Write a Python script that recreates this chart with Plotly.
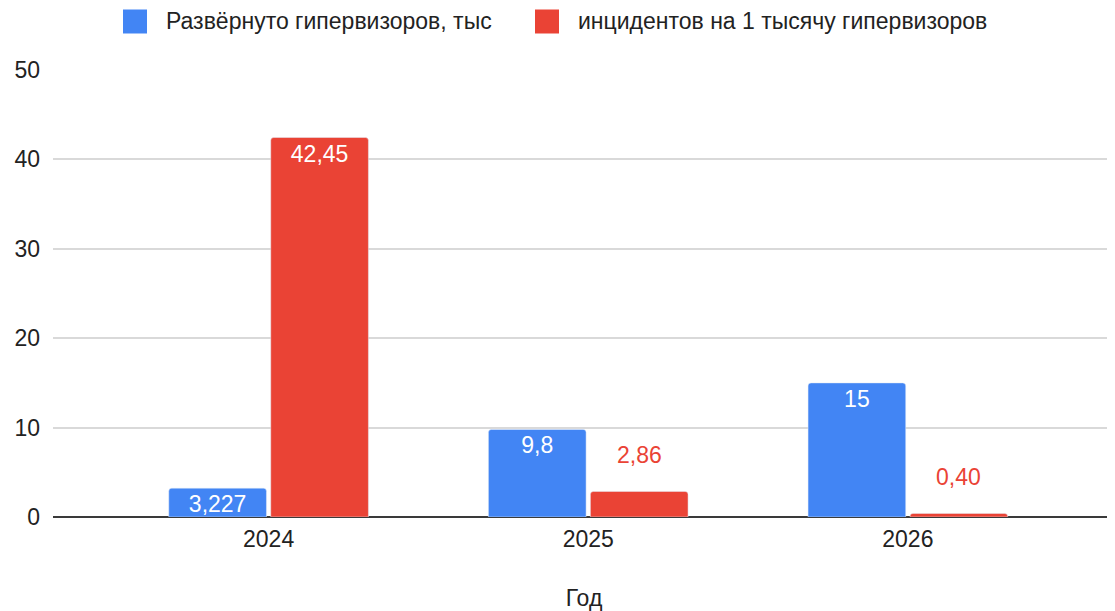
import plotly.graph_objects as go

years = ["2024", "2025", "2026"]
deployed = [3.227, 9.8, 15]
deployed_labels = ["3,227", "9,8", "15"]
incidents = [42.45, 2.86, 0.40]
incidents_labels = ["42,45", "2,86", "0,40"]
name_deployed = "Развёрнуто гипервизоров, тыс"
name_incidents = "инцидентов на 1 тысячу гипервизоров"
axis_title = "Год"
y_ticks = [0, 10, 20, 30, 40, 50]

BLUE = "#4285F4"
RED = "#EA4335"
TXT = "#222222"
FONT = "Liberation Sans, Arial, sans-serif"
FS = 23

# the page body has an 8px margin; size the figure so it ends at the window edge
OFF = 8
W, H = 1115 - OFF, 611 - OFF
ML, MR, MT, MB = 53 - OFF, 0, 70 - OFF, 94
PW, PH = W - ML - MR, H - MT - MB


def px_x(p):
    return (p - OFF - ML) / PW


def px_y(p):
    return (H - MB - (p - OFF)) / PH


fig = go.Figure()
fig.add_trace(go.Bar(
    x=years, y=deployed, name=name_deployed, marker=dict(color=BLUE, cornerradius=3),
    text=deployed_labels, textposition="inside", insidetextanchor="end",
    textfont=dict(color="white", size=FS, family=FONT), textangle=0,
    constraintext="none", showlegend=False,
))
red_text = [incidents_labels[i] if incidents[i] > 10 else "" for i in range(len(years))]
fig.add_trace(go.Bar(
    x=years, y=incidents, name=name_incidents, marker=dict(color=RED, cornerradius=3),
    text=red_text, textposition="inside", insidetextanchor="end",
    textfont=dict(color="white", size=FS, family=FONT), textangle=0,
    constraintext="none", showlegend=False,
))
# small red values: label floats above the bar
for i in range(len(years)):
    if incidents[i] <= 10:
        fig.add_annotation(
            x=i, y=incidents[i], xref="x", yref="y", text=incidents_labels[i],
            showarrow=False, xshift=51, yshift=21, yanchor="bottom",
            font=dict(color=RED, size=FS, family=FONT),
        )

# custom legend (large square swatches)
legend_items = [(name_deployed, BLUE, 123), (name_incidents, RED, 535)]
sq = 24
ly = 21.5
for name, col, x0 in legend_items:
    fig.add_shape(type="rect", xref="paper", yref="paper",
                  x0=px_x(x0), x1=px_x(x0 + sq), y0=px_y(ly + sq / 2), y1=px_y(ly - sq / 2),
                  fillcolor=col, line=dict(width=0), layer="above")
    fig.add_annotation(xref="paper", yref="paper", x=px_x(x0 + sq + 17), y=px_y(ly),
                       xanchor="left", yanchor="middle", showarrow=False, text=name,
                       font=dict(size=FS, color=TXT, family=FONT))

fig.update_layout(
    width=W, height=H,
    margin=dict(l=ML, r=MR, t=MT, b=MB, autoexpand=False),
    paper_bgcolor="white", plot_bgcolor="white",
    font=dict(family=FONT, size=FS, color=TXT),
    barmode="group", bargap=0.362, bargroupgap=0.042,
    showlegend=False,
    xaxis=dict(
        type="category", range=[-0.6745, 2.648],
        title=dict(text=axis_title, font=dict(size=FS, color=TXT), standoff=43),
        tickfont=dict(size=FS, color=TXT), showgrid=False,
        showline=False, ticks="", ticklabelstandoff=6,
    ),
    yaxis=dict(
        range=[0, 50], tickvals=y_ticks, showgrid=True, gridcolor="#D9D9D9", gridwidth=1.5,
        zeroline=True, zerolinecolor="#3A3A3A", zerolinewidth=1.5,
        tickfont=dict(size=FS, color=TXT), ticklabelstandoff=12,
        showline=False,
    ),
)

fig.write_html("out.html")
